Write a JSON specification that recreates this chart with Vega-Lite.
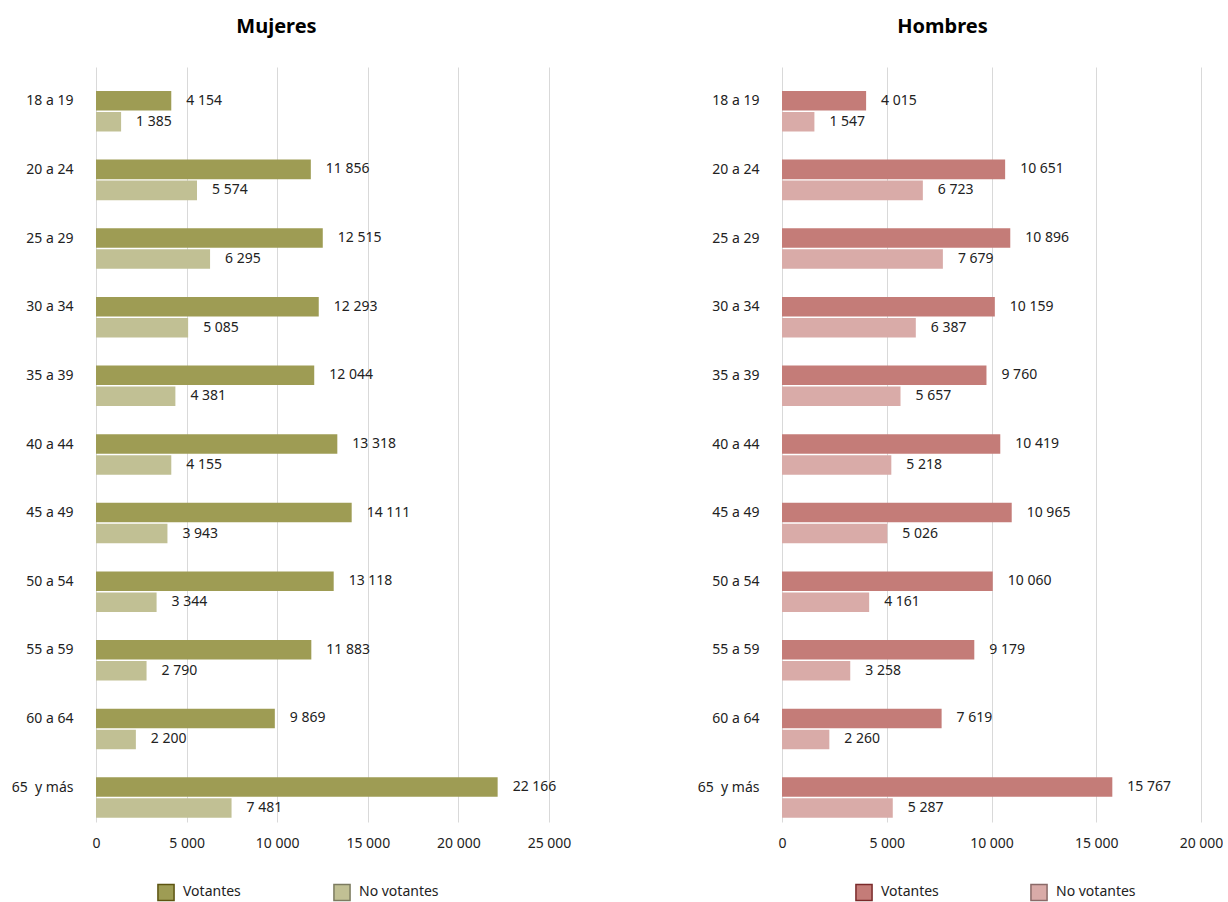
{
  "$schema": "https://vega.github.io/schema/vega-lite/v6.json",
  "background": "white",
  "padding": {"left": 11, "top": 17, "right": 0, "bottom": 5},
  "datasets": {
    "rows": [
      {"sexo": "Mujeres", "edad": "18 a 19", "tipo": "Votantes", "valor": 4154},
      {"sexo": "Mujeres", "edad": "18 a 19", "tipo": "No votantes", "valor": 1385},
      {"sexo": "Mujeres", "edad": "20 a 24", "tipo": "Votantes", "valor": 11856},
      {"sexo": "Mujeres", "edad": "20 a 24", "tipo": "No votantes", "valor": 5574},
      {"sexo": "Mujeres", "edad": "25 a 29", "tipo": "Votantes", "valor": 12515},
      {"sexo": "Mujeres", "edad": "25 a 29", "tipo": "No votantes", "valor": 6295},
      {"sexo": "Mujeres", "edad": "30 a 34", "tipo": "Votantes", "valor": 12293},
      {"sexo": "Mujeres", "edad": "30 a 34", "tipo": "No votantes", "valor": 5085},
      {"sexo": "Mujeres", "edad": "35 a 39", "tipo": "Votantes", "valor": 12044},
      {"sexo": "Mujeres", "edad": "35 a 39", "tipo": "No votantes", "valor": 4381},
      {"sexo": "Mujeres", "edad": "40 a 44", "tipo": "Votantes", "valor": 13318},
      {"sexo": "Mujeres", "edad": "40 a 44", "tipo": "No votantes", "valor": 4155},
      {"sexo": "Mujeres", "edad": "45 a 49", "tipo": "Votantes", "valor": 14111},
      {"sexo": "Mujeres", "edad": "45 a 49", "tipo": "No votantes", "valor": 3943},
      {"sexo": "Mujeres", "edad": "50 a 54", "tipo": "Votantes", "valor": 13118},
      {"sexo": "Mujeres", "edad": "50 a 54", "tipo": "No votantes", "valor": 3344},
      {"sexo": "Mujeres", "edad": "55 a 59", "tipo": "Votantes", "valor": 11883},
      {"sexo": "Mujeres", "edad": "55 a 59", "tipo": "No votantes", "valor": 2790},
      {"sexo": "Mujeres", "edad": "60 a 64", "tipo": "Votantes", "valor": 9869},
      {"sexo": "Mujeres", "edad": "60 a 64", "tipo": "No votantes", "valor": 2200},
      {"sexo": "Mujeres", "edad": "65\u00a0 y más", "tipo": "Votantes", "valor": 22166},
      {"sexo": "Mujeres", "edad": "65\u00a0 y más", "tipo": "No votantes", "valor": 7481},
      {"sexo": "Hombres", "edad": "18 a 19", "tipo": "Votantes", "valor": 4015},
      {"sexo": "Hombres", "edad": "18 a 19", "tipo": "No votantes", "valor": 1547},
      {"sexo": "Hombres", "edad": "20 a 24", "tipo": "Votantes", "valor": 10651},
      {"sexo": "Hombres", "edad": "20 a 24", "tipo": "No votantes", "valor": 6723},
      {"sexo": "Hombres", "edad": "25 a 29", "tipo": "Votantes", "valor": 10896},
      {"sexo": "Hombres", "edad": "25 a 29", "tipo": "No votantes", "valor": 7679},
      {"sexo": "Hombres", "edad": "30 a 34", "tipo": "Votantes", "valor": 10159},
      {"sexo": "Hombres", "edad": "30 a 34", "tipo": "No votantes", "valor": 6387},
      {"sexo": "Hombres", "edad": "35 a 39", "tipo": "Votantes", "valor": 9760},
      {"sexo": "Hombres", "edad": "35 a 39", "tipo": "No votantes", "valor": 5657},
      {"sexo": "Hombres", "edad": "40 a 44", "tipo": "Votantes", "valor": 10419},
      {"sexo": "Hombres", "edad": "40 a 44", "tipo": "No votantes", "valor": 5218},
      {"sexo": "Hombres", "edad": "45 a 49", "tipo": "Votantes", "valor": 10965},
      {"sexo": "Hombres", "edad": "45 a 49", "tipo": "No votantes", "valor": 5026},
      {"sexo": "Hombres", "edad": "50 a 54", "tipo": "Votantes", "valor": 10060},
      {"sexo": "Hombres", "edad": "50 a 54", "tipo": "No votantes", "valor": 4161},
      {"sexo": "Hombres", "edad": "55 a 59", "tipo": "Votantes", "valor": 9179},
      {"sexo": "Hombres", "edad": "55 a 59", "tipo": "No votantes", "valor": 3258},
      {"sexo": "Hombres", "edad": "60 a 64", "tipo": "Votantes", "valor": 7619},
      {"sexo": "Hombres", "edad": "60 a 64", "tipo": "No votantes", "valor": 2260},
      {"sexo": "Hombres", "edad": "65\u00a0 y más", "tipo": "Votantes", "valor": 15767},
      {"sexo": "Hombres", "edad": "65\u00a0 y más", "tipo": "No votantes", "valor": 5287}
    ]
  },
  "hconcat": [
    {
      "width": 453,
      "height": 755,
      "title": {"text": "Mujeres", "dx": -46},
      "data": {"name": "rows"},
      "transform": [{"filter": "datum.sexo === 'Mujeres'"}],
      "encoding": {
        "y": {"field": "edad", "type": "nominal", "sort": null, "title": null,
              "scale": {"paddingInner": 0, "paddingOuter": 0}},
        "yOffset": {"field": "tipo", "type": "nominal",
              "scale": {"domain": ["_", "Votantes", "No votantes"], "paddingInner": 0.07, "paddingOuter": 0.17, "align": 0.42}},
        "x": {"field": "valor", "type": "quantitative", "title": null,
              "scale": {"domain": [0, 25000], "nice": false},
              "axis": {"values": [0, 5000, 10000, 15000, 20000, 25000], "format": ",d"}}
      },
      "layer": [
        {
          "mark": {"type": "bar"},
          "encoding": {
            "color": {"field": "tipo", "type": "nominal", "title": null,
              "scale": {"domain": ["Votantes", "No votantes"], "range": ["#9e9c54", "#c1c094"]},
              "legend": {"orient": "none", "legendX": 61, "legendY": 816, "direction": "horizontal",
                "columns": 2, "columnPadding": 89,
                "encode": {"symbols": {"update": {"fill": [{"test": "datum.value === 'Votantes'", "value": "#8a8019"}, {"value": "#aaa985"}], "stroke": [{"test": "datum.value === 'Votantes'", "value": "#5c5410"}, {"value": "#7c7b60"}], "strokeWidth": {"value": 1.5}}}}}
            }
          }
        },
        {
          "mark": {"type": "text", "align": "left", "baseline": "middle", "dx": 15, "fontSize": 14, "color": "#222222"},
          "encoding": {"text": {"field": "valor", "type": "quantitative", "format": ",d"}}
        }
      ]
    },
    {
      "width": 419,
      "height": 755,
      "title": {"text": "Hombres", "dx": -49},
      "data": {"name": "rows"},
      "transform": [{"filter": "datum.sexo === 'Hombres'"}],
      "encoding": {
        "y": {"field": "edad", "type": "nominal", "sort": null, "title": null,
              "scale": {"paddingInner": 0, "paddingOuter": 0}},
        "yOffset": {"field": "tipo", "type": "nominal",
              "scale": {"domain": ["_", "Votantes", "No votantes"], "paddingInner": 0.07, "paddingOuter": 0.17, "align": 0.42}},
        "x": {"field": "valor", "type": "quantitative", "title": null,
              "scale": {"domain": [0, 20000], "nice": false},
              "axis": {"values": [0, 5000, 10000, 15000, 20000], "format": ",d"}}
      },
      "layer": [
        {
          "mark": {"type": "bar"},
          "encoding": {
            "color": {"field": "tipo", "type": "nominal", "title": null,
              "scale": {"domain": ["Votantes", "No votantes"], "range": ["#c47c78", "#d9aba8"]},
              "legend": {"orient": "none", "legendX": 73, "legendY": 816, "direction": "horizontal",
                "columns": 2, "columnPadding": 88,
                "encode": {"symbols": {"update": {"fill": [{"test": "datum.value === 'Votantes'", "value": "#c47c78"}, {"value": "#d9aba8"}], "stroke": [{"test": "datum.value === 'Votantes'", "value": "#7a2a2a"}, {"value": "#8a6a68"}], "strokeWidth": {"value": 1.5}}}}}
            }
          }
        },
        {
          "mark": {"type": "text", "align": "left", "baseline": "middle", "dx": 15, "fontSize": 14, "color": "#222222"},
          "encoding": {"text": {"field": "valor", "type": "quantitative", "format": ",d"}}
        }
      ]
    }
  ],
  "resolve": {"scale": {"color": "independent", "y": "independent", "x": "independent", "yOffset": "independent"}},
  "spacing": 126,
  "config": {
    "locale": {"number": {"decimal": ",", "thousands": " ", "grouping": [3], "currency": ["", " €"]}},
    "font": "Noto Sans",
    "view": {"stroke": null},
    "title": {"fontSize": 20, "fontWeight": "bold", "color": "#000000", "offset": 30, "anchor": "middle"},
    "axis": {"labelFontSize": 14, "labelColor": "#222222", "ticks": false, "domain": false, "labelFont": "Noto Sans"},
    "axisX": {"grid": true, "gridColor": "#d9d9d9", "gridWidth": 1, "labelPadding": 14, "labelFlush": false},
    "axisY": {"grid": false, "labelPadding": 23, "labelAlign": "right"},
    "legend": {"labelFontSize": 14, "labelColor": "#222222", "symbolType": "square", "symbolSize": 260, "labelOffset": 8}
  }
}
